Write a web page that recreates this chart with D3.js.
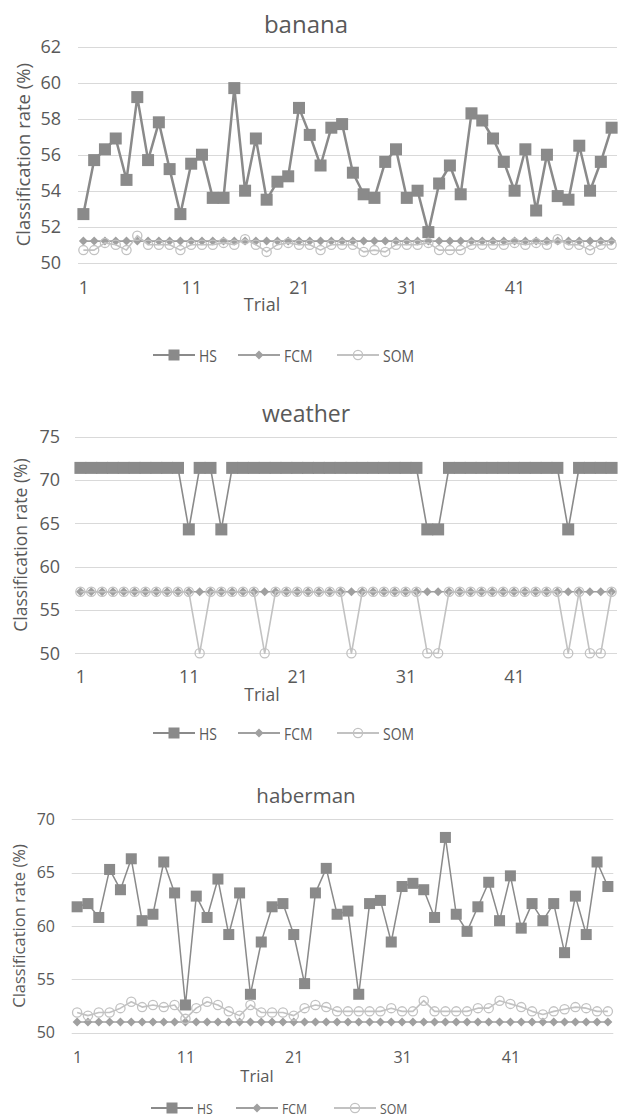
<!DOCTYPE html>
<html>
<head>
<meta charset="utf-8">
<script src="https://cdn.jsdelivr.net/npm/d3@7"></script>
<style>
  html, body { margin: 0; padding: 0; background: #fff; }
  svg { display: block; }
  text { font-family: "Open Sans", "Noto Sans", sans-serif; fill: #595959; }
</style>
</head>
<body>
<svg id="chart" width="622" height="1120"></svg>
<script>
// ---------- DATA ----------
const trials = [1,2,3,4,5,6,7,8,9,10,11,12,13,14,15,16,17,18,19,20,21,22,23,24,25,26,27,28,29,30,31,32,33,34,35,36,37,38,39,40,41,42,43,44,45,46,47,48,49,50];
const xTickLabels = [1, 11, 21, 31, 41];
const seriesNames = ["HS", "FCM", "SOM"];

const bananaHS  = [52.7,55.7,56.3,56.9,54.6,59.2,55.7,57.8,55.2,52.7, 55.5,56.0,53.6,53.6,59.7,54.0,56.9,53.5,54.5,54.8, 58.6,57.1,55.4,57.5,57.7,55.0,53.8,53.6,55.6,56.3, 53.6,54.0,51.7,54.4,55.4,53.8,58.3,57.9,56.9,55.6, 54.0,56.3,52.9,56.0,53.7,53.5,56.5,54.0,55.6,57.5];
const bananaFCM = [51.2,51.2,51.2,51.2,51.2,51.2,51.2,51.2,51.2,51.2, 51.2,51.2,51.2,51.2,51.2,51.2,51.2,51.2,51.2,51.2, 51.2,51.2,51.2,51.2,51.2,51.2,51.2,51.2,51.2,51.2, 51.2,51.2,51.2,51.2,51.2,51.2,51.2,51.2,51.2,51.2, 51.2,51.2,51.2,51.2,51.2,51.2,51.2,51.2,51.2,51.2];
const bananaSOM = [50.7,50.7,51.1,51.0,50.7,51.5,51.0,51.0,51.0,50.7, 51.0,51.0,51.0,51.1,51.0,51.3,51.0,50.6,51.0,51.1, 51.0,51.0,50.7,51.0,51.0,51.0,50.6,50.7,50.6,51.0, 51.0,51.0,51.1,50.7,50.7,50.7,51.0,51.0,51.0,51.0, 51.1,51.0,51.1,51.0,51.3,51.0,51.0,50.7,51.0,51.0];
const bananaYTicks = [50, 52, 54, 56, 58, 60, 62];

const weatherHS  = [71.4,71.4,71.4,71.4,71.4,71.4,71.4,71.4,71.4,71.4, 64.3,71.4,71.4,64.3,71.4,71.4,71.4,71.4,71.4,71.4, 71.4,71.4,71.4,71.4,71.4,71.4,71.4,71.4,71.4,71.4, 71.4,71.4,64.3,64.3,71.4,71.4,71.4,71.4,71.4,71.4, 71.4,71.4,71.4,71.4,71.4,64.3,71.4,71.4,71.4,71.4];
const weatherFCM = [57.1,57.1,57.1,57.1,57.1,57.1,57.1,57.1,57.1,57.1, 57.1,57.1,57.1,57.1,57.1,57.1,57.1,57.1,57.1,57.1, 57.1,57.1,57.1,57.1,57.1,57.1,57.1,57.1,57.1,57.1, 57.1,57.1,57.1,57.1,57.1,57.1,57.1,57.1,57.1,57.1, 57.1,57.1,57.1,57.1,57.1,57.1,57.1,57.1,57.1,57.1];
const weatherSOM = [57.1,57.1,57.1,57.1,57.1,57.1,57.1,57.1,57.1,57.1, 57.1,50.0,57.1,57.1,57.1,57.1,57.1,50.0,57.1,57.1, 57.1,57.1,57.1,57.1,57.1,50.0,57.1,57.1,57.1,57.1, 57.1,57.1,50.0,50.0,57.1,57.1,57.1,57.1,57.1,57.1, 57.1,57.1,57.1,57.1,57.1,50.0,57.1,50.0,50.0,57.1];
const weatherYTicks = [50, 55, 60, 65, 70, 75];

const habermanHS  = [61.8,62.1,60.8,65.3,63.4,66.3,60.5,61.1,66.0,63.1, 52.6,62.8,60.8,64.4,59.2,63.1,53.6,58.5,61.8,62.1, 59.2,54.6,63.1,65.4,61.1,61.4,53.6,62.1,62.4,58.5, 63.7,64.0,63.4,60.8,68.3,61.1,59.5,61.8,64.1,60.5, 64.7,59.8,62.1,60.5,62.1,57.5,62.8,59.2,66.0,63.7];
const habermanFCM = [51.0,51.0,51.0,51.0,51.0,51.0,51.0,51.0,51.0,51.0, 51.0,51.0,51.0,51.0,51.0,51.0,51.0,51.0,51.0,51.0, 51.0,51.0,51.0,51.0,51.0,51.0,51.0,51.0,51.0,51.0, 51.0,51.0,51.0,51.0,51.0,51.0,51.0,51.0,51.0,51.0, 51.0,51.0,51.0,51.0,51.0,51.0,51.0,51.0,51.0,51.0];
const habermanSOM = [51.9,51.6,51.9,51.9,52.3,52.9,52.4,52.6,52.4,52.6, 51.3,52.3,52.9,52.6,52.0,51.6,52.6,51.9,51.9,51.9, 51.6,52.3,52.6,52.4,52.0,52.0,52.0,52.0,52.0,52.3, 52.0,52.0,53.0,52.0,52.0,52.0,52.0,52.3,52.3,53.0, 52.7,52.4,52.0,51.7,52.0,52.2,52.4,52.3,52.0,52.0];
const habermanYTicks = [50, 55, 60, 65, 70];

// ---------- STYLE ----------
const styles = {
  HS:  { color: "#8a8a8a", marker: "square" },
  FCM: { color: "#a0a0a0", marker: "diamond" },
  SOM: { color: "#c2c2c2", marker: "circle" }
};

const charts = [
  { title: "banana", hs: bananaHS, fcm: bananaFCM, som: bananaSOM, yTicks: bananaYTicks,
    x0: 78, x1: 617, yTop: 46.7, yBot: 262.7, titleY: 23, titleX: 306, xLabY: 288, trialY: 304, trialX: 262,
    legendY: 355, yTitleX: 22, tickRight: 61, tickFs: 18, axFs: 18.5, trialFs: 18, titleFs: 24, lgFs: 17,
    hsW: 2.5, sq: 12, lgX: [153, 238, 337] },
  { title: "weather", hs: weatherHS, fcm: weatherFCM, som: weatherSOM, yTicks: weatherYTicks,
    x0: 75, x1: 617, yTop: 436.7, yBot: 653.3, titleY: 413, titleX: 306, xLabY: 677, trialY: 694, trialX: 262,
    legendY: 733, yTitleX: 20, tickRight: 60, tickFs: 18, axFs: 17.5, trialFs: 17.5, titleFs: 23, lgFs: 17,
    hsW: 1.6, sq: 12, lgX: [153, 238, 337] },
  { title: "haberman", hs: habermanHS, fcm: habermanFCM, som: habermanSOM, yTicks: habermanYTicks,
    x0: 71.7, x1: 613.3, yTop: 819.3, yBot: 1032.7, titleY: 795, titleX: 306, xLabY: 1057, trialY: 1075, trialX: 257,
    legendY: 1108, yTitleX: 18, tickRight: 55, tickFs: 16, axFs: 16.5, trialFs: 16.5, titleFs: 20.5, lgFs: 15,
    hsW: 1.5, sq: 11, lgX: [151, 236, 334] }
];

const svg = d3.select("#chart");

function drawMarker(g, type, x, y, color, sz) {
  if (type === "square") {
    g.append("rect").attr("x", x - sz/2).attr("y", y - sz/2).attr("width", sz).attr("height", sz)
      .attr("fill", color).attr("stroke", "none");
  } else if (type === "diamond") {
    const s = sz * 0.5;
    g.append("path").attr("d", `M${x},${y-s}L${x+s},${y}L${x},${y+s}L${x-s},${y}Z`).attr("fill", color);
  } else {
    g.append("circle").attr("cx", x).attr("cy", y).attr("r", 4.6)
      .attr("fill", "none").attr("stroke", color).attr("stroke-width", 1.3);
  }
}

charts.forEach(c => {
  const g = svg.append("g");
  const ymin = c.yTicks[0], ymax = c.yTicks[c.yTicks.length - 1];
  const x = d3.scalePoint().domain(trials).range([c.x0, c.x1]).padding(0.5);
  const y = d3.scaleLinear().domain([ymin, ymax]).range([c.yBot, c.yTop]);

  // gridlines
  g.append("g").selectAll("line").data(c.yTicks).join("line")
    .attr("x1", c.x0).attr("x2", c.x1)
    .attr("y1", d => Math.round(y(d)) + 0.5).attr("y2", d => Math.round(y(d)) + 0.5)
    .attr("stroke", "#d9d9d9").attr("stroke-width", 1.2);

  // y axis labels
  const yAxis = d3.axisLeft(y).tickValues(c.yTicks).tickSize(0).tickPadding(0);
  const ya = g.append("g").attr("transform", `translate(${c.tickRight},0)`).call(yAxis);
  ya.select(".domain").remove();
  ya.selectAll("text").attr("font-size", c.tickFs).attr("fill", "#595959")
    .style("font-family", '"Open Sans", sans-serif');

  // x axis labels
  const xAxis = d3.axisBottom(x).tickValues(xTickLabels).tickSize(0).tickPadding(0);
  const xa = g.append("g").attr("transform", `translate(0,${c.xLabY})`).call(xAxis);
  xa.select(".domain").remove();
  xa.selectAll("text").attr("font-size", c.tickFs).attr("fill", "#595959").attr("dy", "0.35em")
    .style("font-family", '"Open Sans", sans-serif');

  // titles
  g.append("text").attr("x", c.titleX).attr("y", c.titleY).attr("text-anchor", "middle")
    .attr("dominant-baseline", "central").attr("font-size", c.titleFs).text(c.title);
  g.append("text").attr("x", c.trialX).attr("y", c.trialY).attr("text-anchor", "middle")
    .attr("dominant-baseline", "central").attr("font-size", c.trialFs).text("Trial");
  g.append("text").attr("transform", `translate(${c.yTitleX},${(c.yTop + c.yBot) / 2}) rotate(-90)`)
    .attr("text-anchor", "middle").attr("dominant-baseline", "central")
    .attr("font-size", c.axFs).text("Classification rate (%)");

  // series
  const seriesData = [c.hs, c.fcm, c.som];
  seriesNames.forEach((name, si) => {
    const st = styles[name];
    const vals = seriesData[si];
    const line = d3.line().x((d, i) => x(trials[i])).y(d => y(d));
    g.append("path").datum(vals).attr("d", line).attr("fill", "none")
      .attr("stroke", st.color).attr("stroke-width", name === "HS" ? c.hsW : 1.6)
      .attr("stroke-linejoin", "round");
    const mg = g.append("g");
    vals.forEach((v, i) => drawMarker(mg, st.marker, x(trials[i]), y(v), st.color, name === "HS" ? c.sq : 9));
  });

  // legend
  seriesNames.forEach((name, si) => {
    const st = styles[name];
    const lx = c.lgX[si];
    const lg = g.append("g");
    lg.append("line").attr("x1", lx).attr("x2", lx + 42).attr("y1", c.legendY).attr("y2", c.legendY)
      .attr("stroke", st.color).attr("stroke-width", 1.8);
    drawMarker(lg, st.marker, lx + 21, c.legendY, st.color, name === "HS" ? 11 : 9);
    lg.append("text").attr("transform", `translate(${lx + 46},${c.legendY}) scale(0.82,1)`)
      .attr("dominant-baseline", "central")
      .attr("font-size", c.lgFs).text(name);
  });
});
</script>
</body>
</html>
